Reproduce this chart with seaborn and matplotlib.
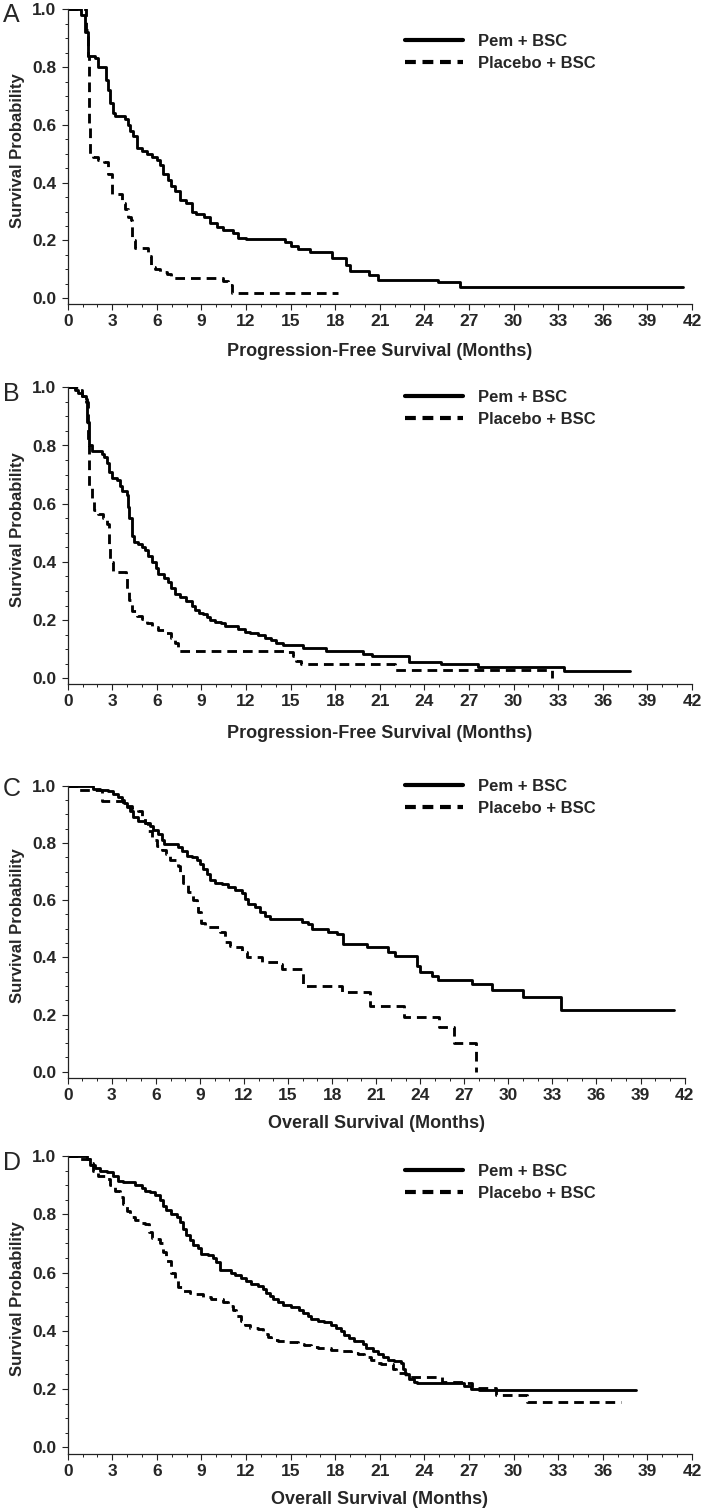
import matplotlib
matplotlib.use("Agg")
import matplotlib.pyplot as plt
from matplotlib.lines import Line2D
from matplotlib.ticker import MultipleLocator
from matplotlib import font_manager
import seaborn as sns
import pandas as pd

# ---------------- data ----------------
a_pem_t = [0, 0.9, 1.16, 1.39, 1.84, 2.06, 2.55, 2.73, 2.84, 3.02, 3.18, 3.85, 4.07, 4.19, 4.41, 4.63,
           4.97, 5.31, 5.64, 5.98, 6.2, 6.42, 6.72, 6.98, 7.21, 7.54, 7.99, 8.33, 8.66, 9.18, 9.56,
           10.07, 10.45, 11.13, 11.46, 12.02, 14.6, 15.04, 15.49, 16.27, 17.8, 18.7, 18.97, 20.3,
           20.85, 24.9, 26.4, 41.4]
a_pem_s = [1.0, 0.98, 0.92, 0.84, 0.83, 0.80, 0.755, 0.72, 0.675, 0.64, 0.63, 0.62, 0.60, 0.58, 0.56,
           0.52, 0.51, 0.50, 0.49, 0.48, 0.46, 0.43, 0.41, 0.39, 0.37, 0.34, 0.33, 0.30, 0.29, 0.28,
           0.26, 0.245, 0.235, 0.225, 0.21, 0.205, 0.195, 0.18, 0.17, 0.16, 0.14, 0.115, 0.095, 0.08,
           0.065, 0.055, 0.04, 0.04]
a_pbo_t = [0, 1.2, 1.35, 1.42, 1.5, 1.72, 2.06, 2.46, 2.73, 2.95, 3.67, 3.85, 4.07, 4.25, 4.34, 4.52,
           5.42, 5.6, 5.87, 6.2, 6.65, 6.98, 10.45, 10.79, 11.06, 18.2]
a_pbo_s = [1.0, 0.93, 0.84, 0.60, 0.50, 0.49, 0.48, 0.47, 0.43, 0.36, 0.33, 0.31, 0.28, 0.27, 0.20,
           0.175, 0.145, 0.11, 0.10, 0.09, 0.085, 0.07, 0.06, 0.045, 0.02, 0.02]

b_pem_t = [0, 0.5, 0.67, 0.94, 1.21, 1.3, 1.46, 1.61, 2.28, 2.46, 2.62, 2.8, 2.95, 3.29, 3.51, 3.67,
           3.96, 4.05, 4.12, 4.3, 4.48, 4.7, 4.97, 5.19, 5.42, 5.64, 5.93, 6.09, 6.49, 6.72, 6.94,
           7.25, 7.54, 7.99, 8.33, 8.55, 8.82, 9.11, 9.34, 9.56, 9.9, 10.34, 10.57, 11.46, 11.91,
           12.25, 12.8, 13.25, 13.7, 14.04, 14.48, 15.83, 17.39, 19.9, 20.5, 22.95, 25.1, 27.6,
           33.4, 37.8]
b_pem_s = [1.0, 0.99, 0.98, 0.97, 0.96, 0.88, 0.80, 0.78, 0.77, 0.76, 0.74, 0.71, 0.69, 0.68, 0.66,
           0.645, 0.63, 0.59, 0.55, 0.49, 0.47, 0.46, 0.45, 0.44, 0.42, 0.40, 0.38, 0.36, 0.345, 0.33,
           0.31, 0.29, 0.28, 0.265, 0.25, 0.235, 0.225, 0.22, 0.21, 0.20, 0.195, 0.19, 0.18, 0.17,
           0.16, 0.155, 0.15, 0.14, 0.13, 0.12, 0.115, 0.105, 0.095, 0.085, 0.075, 0.055, 0.05,
           0.04, 0.025, 0.025]
b_pbo_t = [0, 0.72, 0.94, 1.21, 1.39, 1.46, 1.61, 1.79, 2.06, 2.4, 2.62, 2.75, 2.84, 3.07, 3.9, 4.0,
           4.12, 4.34, 4.63, 4.97, 5.31, 5.64, 6.09, 6.54, 6.94, 7.21, 7.43, 14.82, 15.16, 15.38,
           15.72, 22.0, 32.6]
b_pbo_s = [1.0, 0.99, 0.97, 0.95, 0.80, 0.66, 0.62, 0.58, 0.565, 0.55, 0.53, 0.45, 0.40, 0.365,
           0.345, 0.30, 0.27, 0.23, 0.215, 0.205, 0.19, 0.175, 0.165, 0.155, 0.14, 0.12, 0.095, 0.09,
           0.075, 0.06, 0.05, 0.03, 0.0]

c_pem_t = [0, 1.75, 2.2, 2.77, 3.11, 3.45, 3.68, 3.86, 4.02, 4.24, 4.47, 4.81, 5.26, 5.6, 5.83, 6.17,
           6.44, 6.58, 7.53, 7.76, 8.1, 8.44, 8.78, 9.01, 9.24, 9.46, 9.69, 10.03, 10.48, 10.94,
           11.39, 11.84, 12.07, 12.3, 12.75, 13.09, 13.43, 13.77, 15.93, 16.38, 16.61, 17.74, 18.31,
           18.77, 20.35, 21.83, 22.28, 23.76, 23.98, 24.78, 25.23, 27.5, 28.86, 31.0, 33.6, 41.3]
c_pem_s = [1.0, 0.99, 0.985, 0.98, 0.97, 0.96, 0.95, 0.94, 0.925, 0.91, 0.89, 0.875, 0.87, 0.86,
           0.845, 0.83, 0.81, 0.795, 0.785, 0.77, 0.755, 0.75, 0.74, 0.725, 0.71, 0.69, 0.67, 0.66,
           0.655, 0.645, 0.635, 0.625, 0.605, 0.585, 0.575, 0.56, 0.545, 0.535, 0.525, 0.515, 0.50,
           0.49, 0.48, 0.445, 0.435, 0.42, 0.405, 0.37, 0.35, 0.335, 0.32, 0.305, 0.285, 0.26,
           0.215, 0.215]
c_pbo_t = [0, 0.73, 2.31, 3.79, 4.36, 4.81, 5.04, 5.26, 5.49, 5.72, 6.06, 6.4, 6.67, 6.97, 7.49,
           7.65, 7.87, 8.21, 8.55, 8.78, 8.9, 9.08, 9.35, 10.37, 10.71, 11.05, 11.39, 11.84, 12.19,
           13.2, 14.34, 14.57, 16.04, 18.65, 20.58, 22.92, 25.28, 26.32, 27.8]
c_pbo_s = [1.0, 0.985, 0.945, 0.93, 0.92, 0.91, 0.89, 0.87, 0.84, 0.81, 0.79, 0.775, 0.76, 0.74,
           0.72, 0.69, 0.66, 0.63, 0.60, 0.59, 0.56, 0.52, 0.505, 0.49, 0.455, 0.44, 0.435, 0.42,
           0.40, 0.385, 0.375, 0.36, 0.30, 0.28, 0.23, 0.19, 0.155, 0.10, 0.0]

d_pem_t = [0, 1.28, 1.5, 1.83, 2.17, 2.62, 3.06, 3.4, 3.74, 4.52, 4.97, 5.19, 5.53, 5.86, 6.2, 6.42,
           6.64, 6.98, 7.32, 7.54, 7.76, 7.99, 8.21, 8.43, 8.77, 8.99, 9.44, 9.78, 10.0, 10.22, 11.0,
           11.23, 11.68, 12.01, 12.35, 12.8, 13.13, 13.36, 13.58, 13.8, 14.14, 14.47, 15.03, 15.59,
           15.82, 16.15, 16.38, 16.82, 17.27, 17.72, 18.05, 18.39, 18.61, 18.95, 19.28, 19.84, 20.07,
           20.51, 20.85, 21.19, 21.52, 21.97, 22.42, 22.53, 22.68, 22.98, 23.31, 23.53, 26.67, 27.11,
           27.67, 38.2]
d_pem_s = [1.0, 0.99, 0.97, 0.96, 0.95, 0.945, 0.93, 0.915, 0.91, 0.90, 0.89, 0.88, 0.875, 0.865,
           0.85, 0.83, 0.815, 0.80, 0.79, 0.775, 0.75, 0.73, 0.71, 0.695, 0.685, 0.665, 0.66, 0.65,
           0.635, 0.61, 0.60, 0.59, 0.58, 0.57, 0.56, 0.555, 0.545, 0.53, 0.52, 0.51, 0.50, 0.49,
           0.48, 0.47, 0.46, 0.45, 0.44, 0.435, 0.43, 0.42, 0.41, 0.40, 0.385, 0.375, 0.365, 0.355,
           0.34, 0.33, 0.32, 0.31, 0.30, 0.295, 0.29, 0.27, 0.25, 0.235, 0.225, 0.22, 0.21, 0.20,
           0.195, 0.195]
d_pbo_t = [0, 0.72, 1.5, 1.72, 2.06, 2.5, 2.84, 3.18, 3.51, 3.74, 3.96, 4.18, 4.52, 4.85, 5.19, 5.46,
           5.64, 5.97, 6.2, 6.42, 6.64, 6.94, 7.2, 7.43, 7.76, 8.21, 8.66, 9.1, 9.66, 10.45, 10.78,
           11.12, 11.34, 11.68, 11.9, 12.24, 12.8, 13.13, 13.47, 13.69, 14.14, 14.81, 15.48, 15.93,
           16.38, 16.82, 17.72, 18.17, 19.06, 19.51, 19.96, 20.4, 20.74, 21.07, 21.86, 22.08, 22.75,
           25.2, 26.67, 27.2, 28.8, 30.9, 37.2]
d_pbo_s = [1.0, 0.99, 0.975, 0.95, 0.93, 0.92, 0.90, 0.88, 0.86, 0.835, 0.81, 0.79, 0.78, 0.77,
           0.765, 0.74, 0.72, 0.715, 0.70, 0.67, 0.64, 0.60, 0.575, 0.55, 0.535, 0.53, 0.525, 0.515,
           0.51, 0.50, 0.485, 0.47, 0.45, 0.435, 0.42, 0.41, 0.405, 0.39, 0.38, 0.37, 0.365, 0.36,
           0.355, 0.35, 0.345, 0.34, 0.335, 0.33, 0.325, 0.32, 0.31, 0.30, 0.29, 0.285, 0.27, 0.255,
           0.24, 0.225, 0.22, 0.205, 0.18, 0.155, 0.155]

panel_letters = ["A", "B", "C", "D"]
x_labels = ["Progression-Free Survival (Months)", "Progression-Free Survival (Months)",
            "Overall Survival (Months)", "Overall Survival (Months)"]
y_label = "Survival Probability"
series_names = ["Pem + BSC", "Placebo + BSC"]
x_ticks = list(range(0, 43, 3))
y_ticks = [0.0, 0.2, 0.4, 0.6, 0.8, 1.0]

# ---------------- style ----------------
sns.set_style("ticks")
plt.rcParams["font.family"] = ["Liberation Sans", "DejaVu Sans"]
installed = {f.name for f in font_manager.fontManager.ttflist}
if "Liberation Sans Narrow" in installed:
    NARROW = ["Liberation Sans Narrow", "Liberation Sans", "DejaVu Sans"]
else:
    NARROW = ["Liberation Sans", "DejaVu Sans"]

W, H = 704, 1511
fig = plt.figure(figsize=(W / 100, H / 100), dpi=100)

# axes boxes in pixels: (left, top, right, bottom)
boxes = [
    (67.7, 9.3, 692.0, 304.0),
    (67.7, 387.3, 692.0, 684.0),
    (67.7, 785.7, 684.6, 1078.0),
    (67.7, 1156.0, 692.0, 1454.0),
]
zero_px = [298.3, 678.3, 1071.7, 1447.3]
legend_row1_px = [42.8, 399.2, 788.0, 1172.9]
letter_top_px = [3, 382, 777, 1151]
xlabel_center_px = [352, 733, 1123, 1500]

data = [
    (a_pem_t, a_pem_s, a_pbo_t, a_pbo_s),
    (b_pem_t, b_pem_s, b_pbo_t, b_pbo_s),
    (c_pem_t, c_pem_s, c_pbo_t, c_pbo_s),
    (d_pem_t, d_pem_s, d_pbo_t, d_pbo_s),
]

LW = 2.05
DASH = (0, (3.4, 2.1))

for i, (box, dset) in enumerate(zip(boxes, data)):
    l, t, r, b = box
    ax = fig.add_axes([l / W, 1 - b / H, (r - l) / W, (b - t) / H])
    unit = zero_px[i] - t  # pixels for 1.0
    ax.set_ylim(-(b - zero_px[i]) / unit, 1.0)
    ax.set_xlim(0, 42)

    pt, ps, qt, qs = dset
    df1 = pd.DataFrame({"t": pt, "s": ps})
    df2 = pd.DataFrame({"t": qt, "s": qs})
    sns.lineplot(data=df1, x="t", y="s", ax=ax, color="black", lw=LW, drawstyle="steps-post",
                 estimator=None, sort=False)
    sns.lineplot(data=df2, x="t", y="s", ax=ax, color="black", lw=LW, drawstyle="steps-post",
                 estimator=None, sort=False, linestyle=DASH)

    sns.despine(ax=ax)
    for sp in ("left", "bottom"):
        ax.spines[sp].set_linewidth(0.9)
        ax.spines[sp].set_color("#222222")
    ax.set_xticks(x_ticks)
    ax.set_yticks(y_ticks)
    ax.set_yticklabels([f"{v:.1f}" for v in y_ticks])
    ax.xaxis.set_minor_locator(MultipleLocator(1))
    ax.yaxis.set_minor_locator(MultipleLocator(0.05))
    ax.tick_params(which="major", direction="out", length=4, width=0.8, color="#222222")
    ax.tick_params(which="minor", direction="out", length=2.5, width=0.7, color="#222222")
    ax.tick_params(axis="x", which="major", pad=3.0)
    ax.tick_params(axis="y", which="major", pad=4)
    for lab in ax.get_xticklabels() + ax.get_yticklabels():
        lab.set_fontfamily(NARROW)
        lab.set_fontweight("bold")
        lab.set_fontsize(12.5)

    ax.set_xlabel(x_labels[i], fontsize=13, fontweight="bold", family=NARROW)
    ax.set_ylabel(y_label, fontsize=12, fontweight="bold")
    ax.xaxis.label.set_va("center")
    ax.xaxis.set_label_coords(0.5, -(xlabel_center_px[i] - b) / (b - t))
    ax.yaxis.label.set_va("center")
    ax.yaxis.set_label_coords(-(l - 18) / (r - l), 0.52)

    handles = [Line2D([], [], color="black", lw=3.0),
               Line2D([], [], color="black", lw=3.0, linestyle=(0, (2.6, 1.6)))]
    ax.legend(handles, series_names, loc="upper left",
              bbox_to_anchor=(405 / W, 1 - (legend_row1_px[i] - 9) / H),
              bbox_transform=fig.transFigure, frameon=False, borderpad=0,
              borderaxespad=0, handlelength=3.45, handletextpad=0.95,
              labelspacing=0.42, prop={"family": NARROW, "weight": "bold", "size": 12})

    fig.text(3 / W, 1 - letter_top_px[i] / H, panel_letters[i], fontsize=18,
             va="top", ha="left", family=NARROW, fontweight="normal")

fig.savefig("out.png", dpi=100, facecolor="white")
